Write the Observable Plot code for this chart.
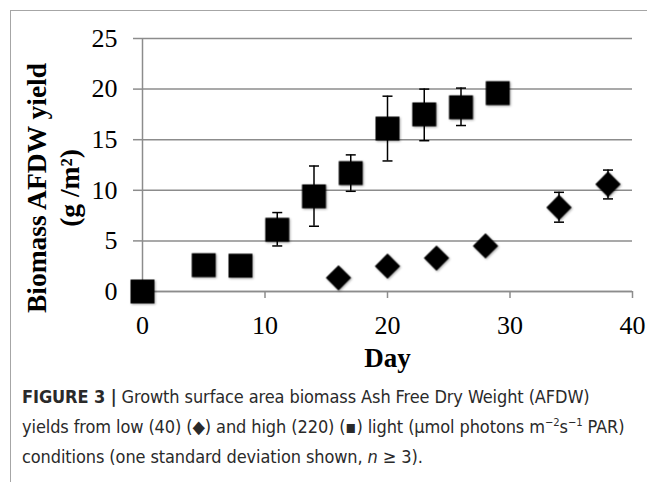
<!DOCTYPE html>
<html><head><meta charset="utf-8">
<script src="https://cdn.jsdelivr.net/npm/d3@7"></script>
<script src="https://cdn.jsdelivr.net/npm/@observablehq/plot@0.6"></script>
<style>
html,body{margin:0;padding:0;background:#fff;}
#wrap{position:relative;width:647px;height:484px;overflow:hidden;}
#frame{position:absolute;left:10px;top:10px;width:640px;height:471px;border-top:1.5px solid #a6a6a6;border-left:1.5px solid #a6a6a6;pointer-events:none;z-index:2}
#chart{position:absolute;left:0;top:0;}
#caption{position:absolute;left:22px;top:382px;width:625px;font-family:"DejaVu Sans Condensed",Roboto,sans-serif;font-stretch:condensed;font-size:18px;letter-spacing:-0.1px;line-height:30px;color:#2a2a2a;white-space:nowrap;}
#caption sup{font-size:0.62em;line-height:0;vertical-align:0.6em;}
g[aria-label="dot"].m{filter:drop-shadow(1px 1.5px 1.2px rgba(0,0,0,0.35));}
</style></head>
<body>
<div id="wrap">
<div id="frame"></div>
<div id="chart"></div>
<div id="caption"><b>FIGURE 3 |</b> Growth surface area biomass Ash Free Dry Weight (AFDW)<br>yields from low (40) (◆) and high (220) (▪) light (µmol photons m<sup>−2</sup>s<sup>−1</sup> PAR)<br>conditions (one standard deviation shown, <i>n</i> ≥ 3).</div>
</div>
<script>
const highDay  = [0, 5, 8, 11, 14, 17, 20, 23, 26, 29];
const highMean = [0, 2.6, 2.55, 6.1, 9.4, 11.7, 16.1, 17.5, 18.2, 19.6];
const highLow  = [null, null, null, 4.5, 6.45, 9.9, 12.9, 14.9, 16.4, null];
const highHigh = [null, null, null, 7.8, 12.4, 13.5, 19.3, 20.0, 20.1, null];

const lowDay  = [16, 20, 24, 28, 34, 38];
const lowMean = [1.35, 2.5, 3.3, 4.5, 8.3, 10.6];
const lowLow  = [null, null, null, null, 6.85, 9.15];
const lowHigh = [null, null, null, null, 9.8, 12.0];

const xTicks = [0, 10, 20, 30, 40];
const yTicks = [0, 5, 10, 15, 20, 25];
const xLabel = "Day";
const yLabel = "Biomass AFDW yield\n(g /m²)";

const high = highDay.map((d, i) => ({day: d, mean: highMean[i], lo: highLow[i], hi: highHigh[i]}));
const low = lowDay.map((d, i) => ({day: d, mean: lowMean[i], lo: lowLow[i], hi: lowHigh[i]}));
const errs = [...high, ...low].filter(d => d.lo != null);
const cap = {draw(ctx) { ctx.moveTo(-5, 0); ctx.lineTo(5, 0); }};
const grey = "#8c8c8c";

const chart = Plot.plot({
  width: 647, height: 382,
  marginLeft: 142, marginRight: 15, marginTop: 38, marginBottom: 91,
  x: {domain: [0, 40]},
  y: {domain: [0, 25]},
  style: {fontFamily: "'Liberation Serif','Times New Roman',serif", background: "transparent", color: "#000"},
  marks: [
    Plot.gridY(yTicks, {stroke: grey, strokeOpacity: 1, strokeWidth: 1.5}),
    Plot.axisY(yTicks, {tickSize: 9, tickPadding: 16, fontSize: 26, stroke: grey, strokeWidth: 1.5, fill: "#000", label: null}),
    Plot.ruleX([0], {stroke: grey, strokeWidth: 1.5}),
    Plot.ruleY([0], {stroke: grey, strokeWidth: 1.5}),
    Plot.axisX(xTicks, {tickSize: 7, tickPadding: 17, fontSize: 26, stroke: grey, strokeWidth: 1.5, fill: "#000", label: null}),
    Plot.ruleX(errs, {x: "day", y1: "lo", y2: "hi", stroke: "#000", strokeWidth: 1.5}),
    Plot.dot(errs, {x: "day", y: "lo", symbol: cap, fill: "none", stroke: "#000", strokeWidth: 1.5}),
    Plot.dot(errs, {x: "day", y: "hi", symbol: cap, fill: "none", stroke: "#000", strokeWidth: 1.5}),
    Plot.dot(high, {x: "day", y: "mean", symbol: "square", r: 13.5, fill: "#000", stroke: "none", className: "m"}),
    Plot.dot(low, {x: "day", y: "mean", symbol: "square", rotate: 45, r: 10.1, fill: "#000", stroke: "none", className: "m"}),
    Plot.text([yLabel], {frameAnchor: "left", rotate: -90, textAnchor: "middle", lineAnchor: "middle", dx: -91, dy: 23, fontSize: 27.5, fontWeight: "bold", lineHeight: 1.2, fill: "#000"}),
    Plot.text([xLabel], {frameAnchor: "bottom", lineAnchor: "middle", dy: 67, fontSize: 27, fontWeight: "bold", fill: "#000"})
  ]
});
document.getElementById("chart").append(chart);
</script>
</body></html>
